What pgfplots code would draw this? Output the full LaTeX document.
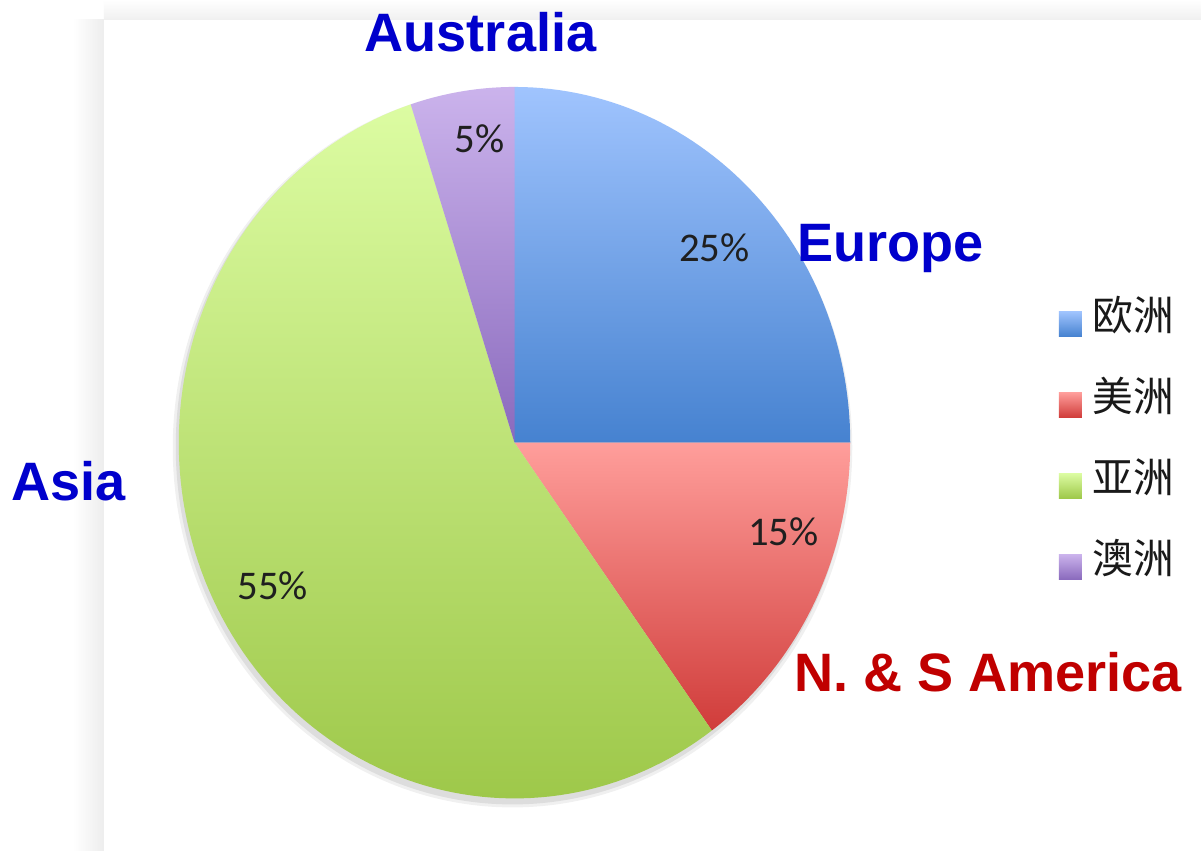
\documentclass[border=0pt]{standalone}
\usepackage{pgfplots}
\pgfplotsset{compat=1.18}
\usepackage{fontspec}
\setmainfont{Liberation Sans}
\newfontfamily\cjk{Noto Sans CJK SC}
\newfontfamily\carlito{Carlito}
\definecolor{lblblue}{RGB}{0,0,204}
\definecolor{lblred}{RGB}{192,0,0}
\definecolor{euA}{HTML}{A0C4FE}
\definecolor{euB}{HTML}{4682D0}
\definecolor{amA}{HTML}{FF9E9B}
\definecolor{amB}{HTML}{D03C3A}
\definecolor{asA}{HTML}{DCFCA2}
\definecolor{asB}{HTML}{9EC84A}
\definecolor{auA}{HTML}{CBB3EC}
\definecolor{auB}{HTML}{8A6ABD}
\begin{document}
\begin{tikzpicture}
\begin{axis}[
  at={(0,0)}, anchor=south west,
  scale only axis, width=12.01cm, height=8.51cm,
  xmin=0, xmax=1201, ymin=0, ymax=851, y dir=reverse,
  hide axis, clip=false,
  legend image code/.code={\path[#1] (0cm,-0.18cm) rectangle (0.23cm,0.07cm);},
  legend style={at={(axis cs:1058,296)}, anchor=north west, draw=none, fill=none,
    inner sep=0pt, row sep=0.37cm,
    font=\cjk\fontsize{11.6}{13}\selectfont, text=black!90,
    nodes={inner sep=0pt, text height=0.34cm, text depth=0.1cm},
    /tikz/every odd column/.append style={column sep=0.11cm}},
  legend cell align=left,
]
% background and card shadow
\fill[white] (axis cs:0,0) rectangle (axis cs:1201,851);
\shade[left color=white, right color=black!7] (axis cs:72,20) rectangle (axis cs:103,851);
\shade[top color=white, bottom color=black!6] (axis cs:103,0) rectangle (axis cs:1201,20);
% pie shadow (soft)
\fill[black, opacity=0.06] (axis cs:512,448) ellipse [x radius=3.40cm, y radius=3.60cm];
\fill[black, opacity=0.08] (axis cs:512,447) ellipse [x radius=3.37cm, y radius=3.58cm];
% wedges: Europe 25%, America 15%, Asia 55%, Australia 5% (angles = 3.6 * value)
\addplot[draw=none, shade, top color=euA, bottom color=euB, domain=0:90, samples=60]
  ({514+336*cos(x)},{443-356*sin(x)}) -- (axis cs:514,443) -- cycle;
\addlegendentry{欧洲}
\addplot[draw=none, shade, top color=amA, bottom color=amB, domain=-54:0, samples=40]
  ({514+336*cos(x)},{443-356*sin(x)}) -- (axis cs:514,443) -- cycle;
\addlegendentry{美洲}
\addplot[draw=none, shade, top color=asA, bottom color=asB, domain=108:306, samples=120]
  ({514+336*cos(x)},{443-356*sin(x)}) -- (axis cs:514,443) -- cycle;
\addlegendentry{亚洲}
\addplot[draw=none, shade, top color=auA, bottom color=auB, domain=90:108, samples=20]
  ({514+336*cos(x)},{443-356*sin(x)}) -- (axis cs:514,443) -- cycle;
\addlegendentry{澳洲}
% percentages
\node[font=\carlito\fontsize{11.6}{13}\selectfont, text=black!88, anchor=base] at (axis cs:714,262) {25\%};
\node[font=\carlito\fontsize{11.6}{13}\selectfont, text=black!88, anchor=base] at (axis cs:783,546) {15\%};
\node[font=\carlito\fontsize{11.6}{13}\selectfont, text=black!88, anchor=base] at (axis cs:272,600) {55\%};
\node[font=\carlito\fontsize{11.6}{13}\selectfont, text=black!88, anchor=base] at (axis cs:479,153) {5\%};
% region labels
\node[font=\bfseries\fontsize{15.4}{18}\selectfont, text=lblblue, anchor=base] at (axis cs:480,52) {Australia};
\node[font=\bfseries\fontsize{15.4}{18}\selectfont, text=lblblue, anchor=base] at (axis cs:890,262) {Europe};
\node[font=\bfseries\fontsize{15.4}{18}\selectfont, text=lblblue, anchor=base] at (axis cs:68,501) {Asia};
\node[font=\bfseries\fontsize{15.4}{18}\selectfont, text=lblred, anchor=base] at (axis cs:988,692) {N. \& S America};
\end{axis}
\end{tikzpicture}
\end{document}
